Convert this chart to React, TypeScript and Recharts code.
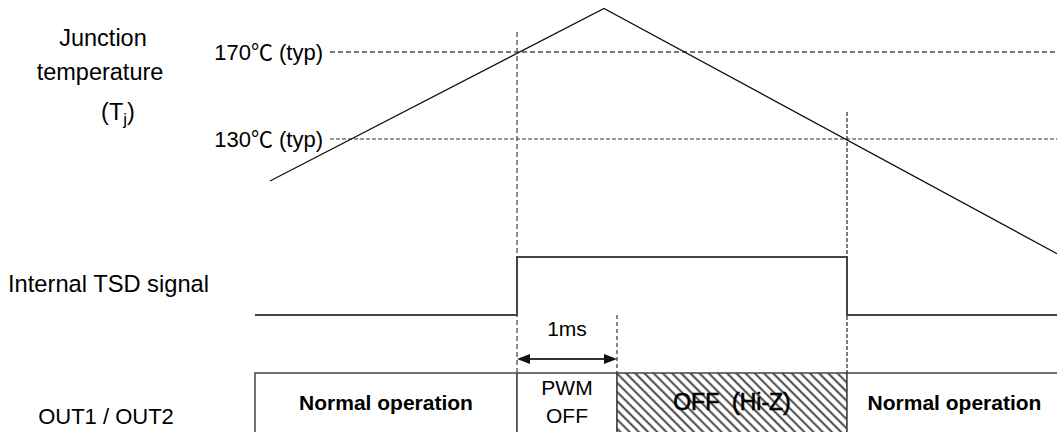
import React from 'react'
import {
  ComposedChart,
  Line,
  XAxis,
  YAxis,
  ReferenceLine,
  ReferenceArea,
} from 'recharts'

// time axis in ms, 0 = moment Tj reaches 170℃ and TSD trips
const tempTimes = [-2.47, 0.87, 5.4]
const tempValues = [110.7, 190, 77.3]

const thresholdTemps = [170, 130]
const thresholdLabels = ['170℃ (typ)', '130℃ (typ)']
const thresholdStart = -1.87

const tsdTimes = [-2.62, 0, 3.3, 5.4]
const tsdLevels = [0, 1, 0, 0]

const outStarts = [-2.62, 0, 1, 3.3]
const outEnds = [0, 1, 3.3, 5.45]
const outLabels = [['Normal operation'], ['PWM', 'OFF'], ['OFF  (Hi-Z)'], ['Normal operation']]
const outHatched = [false, false, true, false]

const pwmOffMs = 1
const tripTime = 0
const releaseTime = 3.3

const rowLabels = ['Junction', 'temperature', 'Internal TSD signal', 'OUT1/OUT2']

const W = 1057
const H = 432
const FONT = '"Liberation Sans", Arial, "Noto Sans CJK JP", sans-serif'

const tempData = tempTimes.map((t, i) => ({ t, temp: tempValues[i] }))
const tsdData = tsdTimes.map((t, i) => ({ t, tsd: tsdLevels[i] }))

const thresholdStyles = [
  { stroke: '#777', strokeWidth: 2, strokeDasharray: '5 3' },
  { stroke: '#333', strokeWidth: 1.2, strokeDasharray: '4 2' },
]

function ThresholdLabel({ viewBox, text }: any) {
  return (
    <text
      x={viewBox.x - 7}
      y={viewBox.y}
      dy="0.36em"
      textAnchor="end"
      fontSize={22}
      fontFamily={FONT}
      fill="#000"
      style={{ whiteSpace: 'pre' }}
    >
      {text}
    </text>
  )
}

function BoxLabel({ viewBox, lines, hatched }: any) {
  const cx = viewBox.x + viewBox.width / 2
  const tops = lines.length > 1 ? [22, 50] : [37]
  const bold = lines[0] === 'Normal operation'
  return (
    <text
      textAnchor="middle"
      fontSize={hatched ? 23 : 21}
      fontWeight={bold ? 700 : 400}
      fontFamily={FONT}
      fill="#000"
      stroke={hatched ? '#000' : 'none'}
      strokeWidth={hatched ? 0.6 : 0}
      style={{ whiteSpace: 'pre' }}
    >
      {lines.map((l: string, i: number) => (
        <tspan key={i} x={cx} y={viewBox.y + tops[i]}>
          {l}
        </tspan>
      ))}
    </text>
  )
}

function DimArrow(props: any) {
  const { x1, x2, y1 } = props
  const len = 13
  const hw = 5
  return (
    <g>
      <line x1={x1 + 4} y1={y1} x2={x2 - 4} y2={y1} stroke="#333" strokeWidth={2} />
      <polygon points={`${x1},${y1} ${x1 + len},${y1 - hw} ${x1 + len},${y1 + hw}`} fill="#111" />
      <polygon points={`${x2},${y1} ${x2 - len},${y1 - hw} ${x2 - len},${y1 + hw}`} fill="#111" />
      <text
        x={(x1 + x2) / 2}
        y={y1 - 23}
        textAnchor="middle"
        fontSize={21}
        fontFamily={FONT}
        fill="#000"
      >
        {pwmOffMs}ms
      </text>
    </g>
  )
}

export default function App() {
  return (
    <div style={{ position: 'absolute', left: 0, top: 0, width: W, height: H, background: '#fff' }}>
      <ComposedChart width={W} height={H} margin={{ top: 0, right: 0, bottom: 0, left: 0 }}>
        <defs>
          <pattern
            id="hatch"
            width="6.5"
            height="6.5"
            patternUnits="userSpaceOnUse"
            patternTransform="rotate(45)"
          >
            <rect width="6.5" height="6.5" fill="#fff" />
            <line x1="0" y1="3.25" x2="6.5" y2="3.25" stroke="#333" strokeWidth={1.8} />
          </pattern>
        </defs>
        <XAxis dataKey="t" type="number" domain={[-5.17, 5.4]} allowDataOverflow hide />
        <YAxis yAxisId="temp" type="number" domain={[-4.71, 193.91]} allowDataOverflow hide />
        <YAxis yAxisId="sig" type="number" domain={[-2.017, 5.431]} allowDataOverflow hide />

        {outStarts.map((s, i) => (
          <ReferenceArea
            key={'out' + i}
            yAxisId="sig"
            x1={s}
            x2={outEnds[i]}
            y1={-1}
            y2={-2.3}
            ifOverflow="hidden"
            fill={outHatched[i] ? 'url(#hatch)' : '#fff'}
            fillOpacity={1}
            stroke="#444"
            strokeWidth={1.5}
            label={<BoxLabel lines={outLabels[i]} hatched={outHatched[i]} />}
          />
        ))}

        {thresholdTemps.map((v, i) => (
          <ReferenceLine
            key={'th' + i}
            yAxisId="temp"
            segment={[
              { x: thresholdStart, y: v },
              { x: 5.4, y: v },
            ]}
            {...thresholdStyles[i]}
            label={<ThresholdLabel text={thresholdLabels[i]} />}
          />
        ))}

        <ReferenceLine
          yAxisId="sig"
          segment={[
            { x: tripTime, y: 4.88 },
            { x: tripTime, y: -1 },
          ]}
          stroke="#666"
          strokeWidth={1.5}
          strokeDasharray="5 3"
        />
        <ReferenceLine
          yAxisId="sig"
          segment={[
            { x: releaseTime, y: 3.5 },
            { x: releaseTime, y: -1 },
          ]}
          stroke="#222"
          strokeWidth={1.2}
          strokeDasharray="4 2"
        />
        <ReferenceLine
          yAxisId="sig"
          segment={[
            { x: tripTime + pwmOffMs, y: 0 },
            { x: tripTime + pwmOffMs, y: -1 },
          ]}
          stroke="#333"
          strokeWidth={1.2}
          strokeDasharray="4 3"
        />
        <ReferenceLine
          yAxisId="sig"
          segment={[
            { x: tripTime, y: -0.76 },
            { x: tripTime + pwmOffMs, y: -0.76 },
          ]}
          shape={DimArrow}
        />

        <Line
          data={tempData}
          yAxisId="temp"
          dataKey="temp"
          type="linear"
          stroke="#111"
          strokeWidth={1.3}
          dot={false}
          activeDot={false}
          isAnimationActive={false}
        />
        <Line
          data={tsdData}
          yAxisId="sig"
          dataKey="tsd"
          type="stepAfter"
          stroke="#444"
          strokeWidth={2}
          dot={false}
          activeDot={false}
          isAnimationActive={false}
        />
      </ComposedChart>

      <svg
        width={W}
        height={H}
        style={{ position: 'absolute', left: 0, top: 0, pointerEvents: 'none' }}
        fontFamily={FONT}
        fill="#000"
      >
        <text x={103} y={46} textAnchor="middle" fontSize={23.5}>
          {rowLabels[0]}
        </text>
        <text x={100} y={80} textAnchor="middle" fontSize={23.5}>
          {rowLabels[1]}
        </text>
        <text x={118} y={120} textAnchor="middle" fontSize={23.5}>
          (T<tspan fontSize={17} dy={5}>j</tspan>
          <tspan dy={-5}>)</tspan>
        </text>
        <text x={8} y={292} fontSize={23.7}>
          {rowLabels[2]}
        </text>
        <text x={106} y={424} textAnchor="middle" fontSize={22} style={{ whiteSpace: 'pre' }}>
          {rowLabels[3].replace('/', ' / ')}
        </text>
      </svg>
    </div>
  )
}
